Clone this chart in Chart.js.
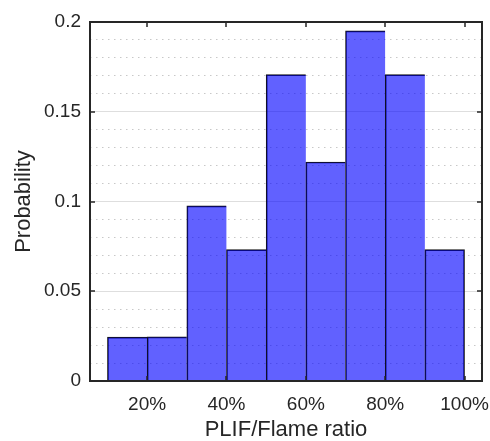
<!DOCTYPE html>
<html>
<head>
<meta charset="utf-8">
<script src="https://cdn.jsdelivr.net/npm/chart.js@4"></script>
<style>
  html, body { margin: 0; padding: 0; background: #fff; }
  #wrap { width: 490px; height: 441px; }
</style>
</head>
<body>
<div id="wrap"><canvas id="histChart" width="490" height="441"></canvas></div>
<script>
// bin edges (PLIF/Flame ratio) and probability per bin
const binEdges = [0.1, 0.2, 0.3, 0.4, 0.5, 0.6, 0.7, 0.8, 0.9, 1.0];
const probability = [0.0244, 0.0246, 0.0976, 0.0732, 0.1707, 0.1220, 0.1951, 0.1707, 0.0732];
const xTicks = [0.2, 0.4, 0.6, 0.8, 1.0];
const yTicks = [0, 0.05, 0.1, 0.15, 0.2];

const axisColor = "#262626";
const font = "'Liberation Sans', Arial, Helvetica, sans-serif";

const points = probability.map((p, i) => ({ x: (binEdges[i] + binEdges[i + 1]) / 2, y: p }));
const lastBar = probability.length - 1;

// frame + inward tick marks, like a matlab box
const boxPlugin = {
  id: "box",
  afterDatasetsDraw(chart) {
    const { ctx, chartArea: a, scales } = chart;
    const len = 5;
    ctx.save();
    ctx.strokeStyle = axisColor;
    ctx.lineWidth = 1.5;
    ctx.beginPath();
    xTicks.forEach((v) => {
      const px = Math.round(scales.x.getPixelForValue(v));
      ctx.moveTo(px, a.bottom); ctx.lineTo(px, a.bottom - len);
      ctx.moveTo(px, a.top); ctx.lineTo(px, a.top + len);
    });
    yTicks.forEach((v) => {
      const py = Math.round(scales.y.getPixelForValue(v));
      ctx.moveTo(a.left, py); ctx.lineTo(a.left + len, py);
      ctx.moveTo(a.right, py); ctx.lineTo(a.right - len, py);
    });
    ctx.stroke();
    ctx.lineWidth = 2;
    ctx.strokeRect(a.left, a.top, a.right - a.left, a.bottom - a.top);
    ctx.restore();
  }
};

new Chart(document.getElementById("histChart").getContext("2d"), {
  type: "bar",
  data: {
    datasets: [{
      label: "Probability",
      data: points,
      backgroundColor: "rgba(0, 0, 255, 0.62)",
      borderColor: "#111",
      borderWidth: (c) => ({ top: 1, left: 1, bottom: 0, right: c.dataIndex === lastBar ? 1 : 0 }),
      barPercentage: 1.0,
      categoryPercentage: 1.0
    }]
  },
  options: {
    responsive: false,
    animation: false,
    layout: { padding: { left: 0, right: 8, top: 22, bottom: 0 } },
    plugins: { legend: { display: false }, tooltip: { enabled: false } },
    scales: {
      x: {
        type: "linear",
        offset: false,
        min: 0.056,
        max: 1.044,
        afterBuildTicks: (s) => { s.ticks = xTicks.map((v) => ({ value: v })); },
        afterFit: (s) => { s.height = 60; s.paddingLeft = 0; s.paddingRight = 0; },
        grid: { display: false, drawTicks: false, offset: false },
        border: { display: false },
        ticks: {
          color: axisColor,
          font: { family: font, size: 19 },
          padding: 12,
          maxRotation: 0,
          callback: (v) => Math.round(v * 100) + "%"
        },
        title: {
          display: true,
          text: "PLIF/Flame ratio",
          color: axisColor,
          font: { family: font, size: 22, lineHeight: 1.0 },
          padding: { top: 0, bottom: 0 }
        }
      },
      y: {
        min: 0,
        max: 0.2,
        afterBuildTicks: (s) => { s.ticks = yTicks.map((v) => ({ value: v })); },
        afterFit: (s) => { s.width = 90; s.paddingTop = 0; s.paddingBottom = 0; },
        grid: { color: "#dedede", lineWidth: 1, drawTicks: false },
        border: { display: false },
        ticks: {
          color: axisColor,
          font: { family: font, size: 19 },
          padding: 9,
          callback: (v) => String(v)
        },
        title: {
          display: true,
          text: "Probability",
          color: axisColor,
          font: { family: font, size: 22, lineHeight: 1.0 },
          padding: { top: 13, bottom: 0 }
        }
      },
      yMinor: {
        position: "left",
        min: 0,
        max: 0.2,
        afterFit: (s) => { s.width = 0; s.paddingTop = 0; s.paddingBottom = 0; },
        ticks: { display: false, stepSize: 0.01 },
        grid: {
          drawTicks: false,
          lineWidth: 1,
          color: (c) => (Math.round(c.tick.value * 100) % 5 === 0 ? "rgba(0,0,0,0)" : "#c8c8c8")
        },
        border: { display: false, dash: [1.5, 4.5] }
      }
    }
  },
  plugins: [boxPlugin]
});
</script>
</body>
</html>
